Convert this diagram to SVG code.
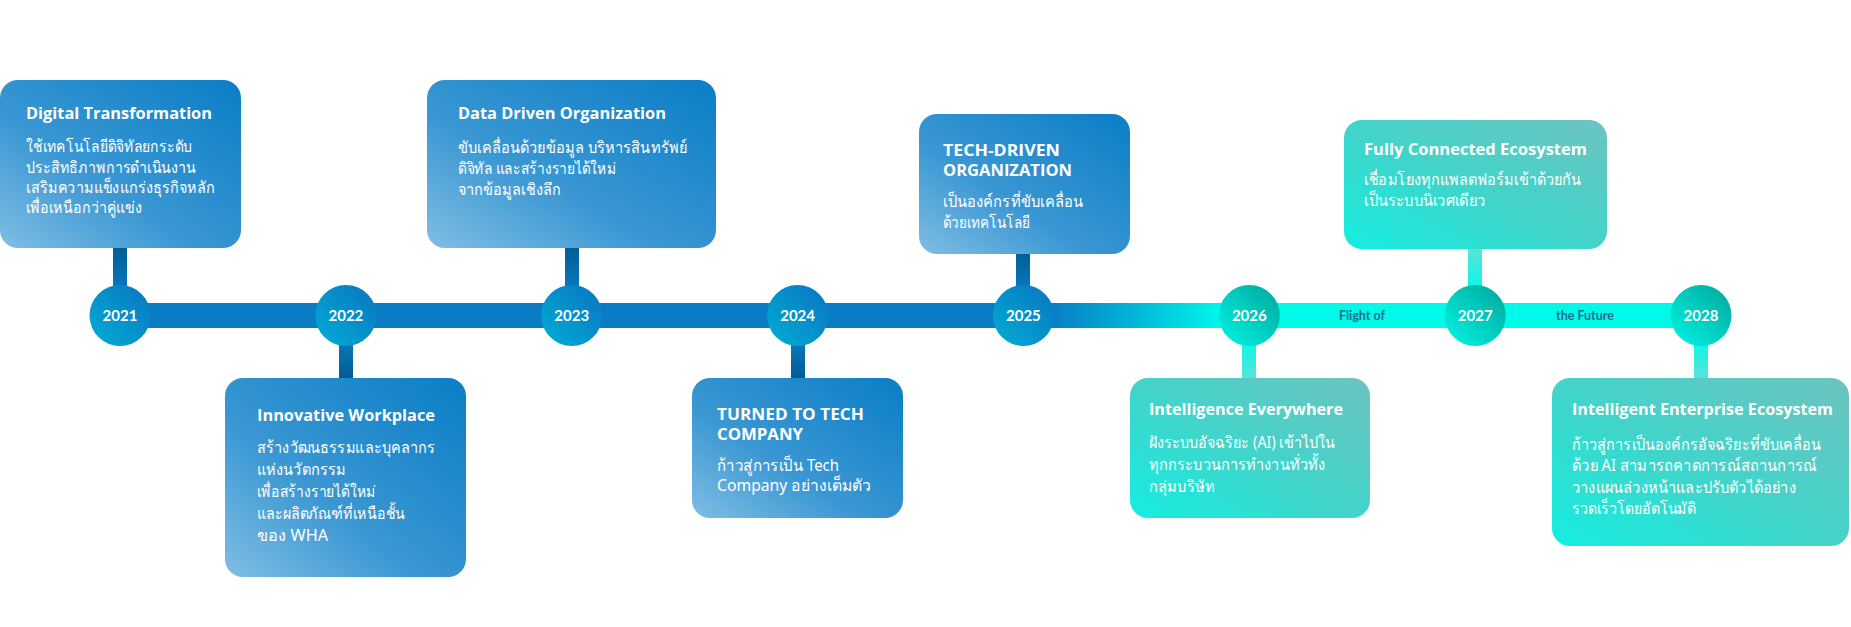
<svg xmlns="http://www.w3.org/2000/svg" width="1851" height="627" viewBox="0 0 1851 627">
<defs>
<style>
.title{font-family:"Open Sans","Liberation Sans",sans-serif;font-weight:700;font-size:16.5px;fill:#ffffff}
.body{font-family:"Noto Sans","Liberation Sans",sans-serif;font-weight:400;font-size:16px;fill:#ffffff}
.year{font-family:Lato,"Liberation Sans",sans-serif;font-weight:700;font-size:15px;fill:#ffffff;text-anchor:middle}
.tag{font-family:Lato,"Liberation Sans",sans-serif;font-weight:700;font-size:12.5px;fill:#1E6C8C;text-anchor:middle}
.bbox{fill:url(#boxBlue)}
.tbox{fill:url(#boxTeal)}
.bcirc{fill:url(#circBlue)}
.tcirc{fill:url(#circTeal)}
</style>
<linearGradient id="boxBlue" x1="0" y1="1" x2="1" y2="0">
<stop offset="0" stop-color="#7FBEE4"/>
<stop offset="0.4" stop-color="#3A97D3"/>
<stop offset="1" stop-color="#0A7EC6"/>
</linearGradient>
<linearGradient id="boxTeal" x1="0" y1="1" x2="1" y2="0">
<stop offset="0" stop-color="#14EEE0"/>
<stop offset="0.45" stop-color="#3FD5CB"/>
<stop offset="1" stop-color="#6DC3BF"/>
</linearGradient>
<linearGradient id="circBlue" x1="0" y1="1" x2="1" y2="0">
<stop offset="0" stop-color="#00AED4"/>
<stop offset="1" stop-color="#0A74C2"/>
</linearGradient>
<linearGradient id="circTeal" x1="0" y1="1" x2="1" y2="0">
<stop offset="0" stop-color="#00F6E6"/>
<stop offset="1" stop-color="#00A69A"/>
</linearGradient>
<linearGradient id="bar" gradientUnits="userSpaceOnUse" x1="1050" y1="0" x2="1225" y2="0">
<stop offset="0" stop-color="#0A7CC5"/>
<stop offset="0.45" stop-color="#00B2D6"/>
<stop offset="1" stop-color="#00FAEA"/>
</linearGradient>
<linearGradient id="stemUp" x1="0" y1="0" x2="0" y2="1">
<stop offset="0" stop-color="#005C93"/>
<stop offset="1" stop-color="#0A7BC2"/>
</linearGradient>
<linearGradient id="stemDown" x1="0" y1="0" x2="0" y2="1">
<stop offset="0" stop-color="#0A7BC2"/>
<stop offset="1" stop-color="#005A8E"/>
</linearGradient>
<linearGradient id="stemTealUp" x1="0" y1="0" x2="0" y2="1">
<stop offset="0" stop-color="#62E0D8"/>
<stop offset="1" stop-color="#00FAEA"/>
</linearGradient>
<linearGradient id="stemTealDown" x1="0" y1="0" x2="0" y2="1">
<stop offset="0" stop-color="#00FAEA"/>
<stop offset="1" stop-color="#62E0D8"/>
</linearGradient>
<radialGradient id="glow" cx="0.5" cy="1" r="0.5">
<stop offset="0" stop-color="#0A6FB0" stop-opacity="0.55"/>
<stop offset="1" stop-color="#0A6FB0" stop-opacity="0"/>
</radialGradient>
<clipPath id="clip2023"><rect x="427" y="80" width="289" height="168" rx="18"/></clipPath>
<clipPath id="clip2025"><rect x="919" y="114" width="211" height="140" rx="18"/></clipPath>
</defs>

<g id="connectors">
<rect x="113" y="245" width="14" height="48" fill="url(#stemUp)"/>
<rect x="339" y="338" width="14" height="44" fill="url(#stemDown)"/>
<rect x="565" y="245" width="14" height="48" fill="url(#stemUp)"/>
<rect x="791" y="338" width="14" height="44" fill="url(#stemDown)"/>
<rect x="1016" y="250" width="14" height="43" fill="url(#stemUp)"/>
<rect x="1242" y="338" width="14" height="44" fill="url(#stemTealDown)"/>
<rect x="1468" y="245" width="14" height="48" fill="url(#stemTealUp)"/>
<rect x="1694" y="338" width="14" height="44" fill="url(#stemTealDown)"/>
<rect x="120" y="303" width="1581" height="25" fill="url(#bar)"/>
<text class="tag" x="1362" y="320">Flight of</text>
<text class="tag" x="1585" y="320">the Future</text>
</g>

<g id="year-2021"><circle class="bcirc" cx="120" cy="315.5" r="30.5"/><text class="year" x="120" y="321">2021</text></g>
<g id="year-2022"><circle class="bcirc" cx="345.9" cy="315.5" r="30.5"/><text class="year" x="345.9" y="321">2022</text></g>
<g id="year-2023"><circle class="bcirc" cx="571.7" cy="315.5" r="30.5"/><text class="year" x="571.7" y="321">2023</text></g>
<g id="year-2024"><circle class="bcirc" cx="797.6" cy="315.5" r="30.5"/><text class="year" x="797.6" y="321">2024</text></g>
<g id="year-2025"><circle class="bcirc" cx="1023.4" cy="315.5" r="30.5"/><text class="year" x="1023.4" y="321">2025</text></g>
<g id="year-2026"><circle class="tcirc" cx="1249.3" cy="315.5" r="30.5"/><text class="year" x="1249.3" y="321">2026</text></g>
<g id="year-2027"><circle class="tcirc" cx="1475.2" cy="315.5" r="30.5"/><text class="year" x="1475.2" y="321">2027</text></g>
<g id="year-2028"><circle class="tcirc" cx="1701" cy="315.5" r="30.5"/><text class="year" x="1701" y="321">2028</text></g>

<g id="box-2021">
<rect class="bbox" x="0" y="80" width="241" height="168" rx="18"/>
<text class="title" x="26" y="119" textLength="186" lengthAdjust="spacingAndGlyphs">Digital Transformation</text>
<text class="body" x="26" y="152" textLength="166" lengthAdjust="spacingAndGlyphs">ใช้เทคโนโลยีดิจิทัลยกระดับ</text>
<text class="body" x="26" y="173" textLength="170" lengthAdjust="spacingAndGlyphs">ประสิทธิภาพการดำเนินงาน</text>
<text class="body" x="26" y="193" textLength="189" lengthAdjust="spacingAndGlyphs">เสริมความแข็งแกร่งธุรกิจหลัก</text>
<text class="body" x="26" y="213" textLength="116" lengthAdjust="spacingAndGlyphs">เพื่อเหนือกว่าคู่แข่ง</text>
</g>

<g id="box-2022">
<rect class="bbox" x="225" y="378" width="241" height="199" rx="18"/>
<text class="title" x="257" y="421" textLength="178" lengthAdjust="spacingAndGlyphs">Innovative Workplace</text>
<text class="body" x="257" y="453" textLength="178" lengthAdjust="spacingAndGlyphs">สร้างวัฒนธรรมและบุคลากร</text>
<text class="body" x="257" y="475" textLength="89" lengthAdjust="spacingAndGlyphs">แห่งนวัตกรรม</text>
<text class="body" x="257" y="497" textLength="119" lengthAdjust="spacingAndGlyphs">เพื่อสร้างรายได้ใหม่</text>
<text class="body" x="257" y="519" textLength="148" lengthAdjust="spacingAndGlyphs">และผลิตภัณฑ์ที่เหนือชั้น</text>
<text class="body" x="257" y="541" textLength="71" lengthAdjust="spacingAndGlyphs">ของ WHA</text>
</g>

<g id="box-2023">
<rect class="bbox" x="427" y="80" width="289" height="168" rx="18"/>
<ellipse cx="571.7" cy="248" rx="40" ry="22" fill="url(#glow)" clip-path="url(#clip2023)"/>
<text class="title" x="458" y="119" textLength="208" lengthAdjust="spacingAndGlyphs">Data Driven Organization</text>
<text class="body" x="458" y="153" textLength="229" lengthAdjust="spacingAndGlyphs">ขับเคลื่อนด้วยข้อมูล บริหารสินทรัพย์</text>
<text class="body" x="458" y="174" textLength="158" lengthAdjust="spacingAndGlyphs">ดิจิทัล และสร้างรายได้ใหม่</text>
<text class="body" x="458" y="195" textLength="103" lengthAdjust="spacingAndGlyphs">จากข้อมูลเชิงลึก</text>
</g>

<g id="box-2024">
<rect class="bbox" x="692" y="378" width="211" height="140" rx="18"/>
<text class="title" x="717" y="420" textLength="147" lengthAdjust="spacingAndGlyphs">TURNED TO TECH</text>
<text class="title" x="717" y="440" textLength="86" lengthAdjust="spacingAndGlyphs">COMPANY</text>
<text class="body" x="717" y="471" textLength="122" lengthAdjust="spacingAndGlyphs">ก้าวสู่การเป็น Tech</text>
<text class="body" x="717" y="491" textLength="154" lengthAdjust="spacingAndGlyphs">Company อย่างเต็มตัว</text>
</g>

<g id="box-2025">
<rect class="bbox" x="919" y="114" width="211" height="140" rx="18"/>
<ellipse cx="1023.4" cy="254" rx="36" ry="22" fill="url(#glow)" clip-path="url(#clip2025)"/>
<text class="title" x="943" y="156" textLength="117" lengthAdjust="spacingAndGlyphs">TECH-DRIVEN</text>
<text class="title" x="943" y="176" textLength="129" lengthAdjust="spacingAndGlyphs">ORGANIZATION</text>
<text class="body" x="943" y="207" textLength="140" lengthAdjust="spacingAndGlyphs">เป็นองค์กรที่ขับเคลื่อน</text>
<text class="body" x="943" y="228" textLength="87" lengthAdjust="spacingAndGlyphs">ด้วยเทคโนโลยี</text>
</g>

<g id="box-2026">
<rect class="tbox" x="1130" y="378" width="240" height="140" rx="18"/>
<text class="title" x="1149" y="415" textLength="194" lengthAdjust="spacingAndGlyphs">Intelligence Everywhere</text>
<text class="body" x="1149" y="448" textLength="186" lengthAdjust="spacingAndGlyphs">ฝังระบบอัจฉริยะ (AI) เข้าไปใน</text>
<text class="body" x="1149" y="470" textLength="176" lengthAdjust="spacingAndGlyphs">ทุกกระบวนการทำงานทั่วทั้ง</text>
<text class="body" x="1149" y="492" textLength="66" lengthAdjust="spacingAndGlyphs">กลุ่มบริษัท</text>
</g>

<g id="box-2027">
<rect class="tbox" x="1344" y="120" width="263" height="129" rx="18"/>
<text class="title" x="1364" y="155" textLength="223" lengthAdjust="spacingAndGlyphs">Fully Connected Ecosystem</text>
<text class="body" x="1364" y="185" textLength="217" lengthAdjust="spacingAndGlyphs">เชื่อมโยงทุกแพลตฟอร์มเข้าด้วยกัน</text>
<text class="body" x="1364" y="206" textLength="121" lengthAdjust="spacingAndGlyphs">เป็นระบบนิเวศเดียว</text>
</g>

<g id="box-2028">
<rect class="tbox" x="1552" y="378" width="297" height="168" rx="18"/>
<text class="title" x="1572" y="415" textLength="261" lengthAdjust="spacingAndGlyphs">Intelligent Enterprise Ecosystem</text>
<text class="body" x="1572" y="450" textLength="249" lengthAdjust="spacingAndGlyphs">ก้าวสู่การเป็นองค์กรอัจฉริยะที่ขับเคลื่อน</text>
<text class="body" x="1572" y="471" textLength="245" lengthAdjust="spacingAndGlyphs">ด้วย AI สามารถคาดการณ์สถานการณ์</text>
<text class="body" x="1572" y="493" textLength="224" lengthAdjust="spacingAndGlyphs">วางแผนล่วงหน้าและปรับตัวได้อย่าง</text>
<text class="body" x="1572" y="514" textLength="124" lengthAdjust="spacingAndGlyphs">รวดเร็วโดยอัตโนมัติ</text>
</g>
</svg>
